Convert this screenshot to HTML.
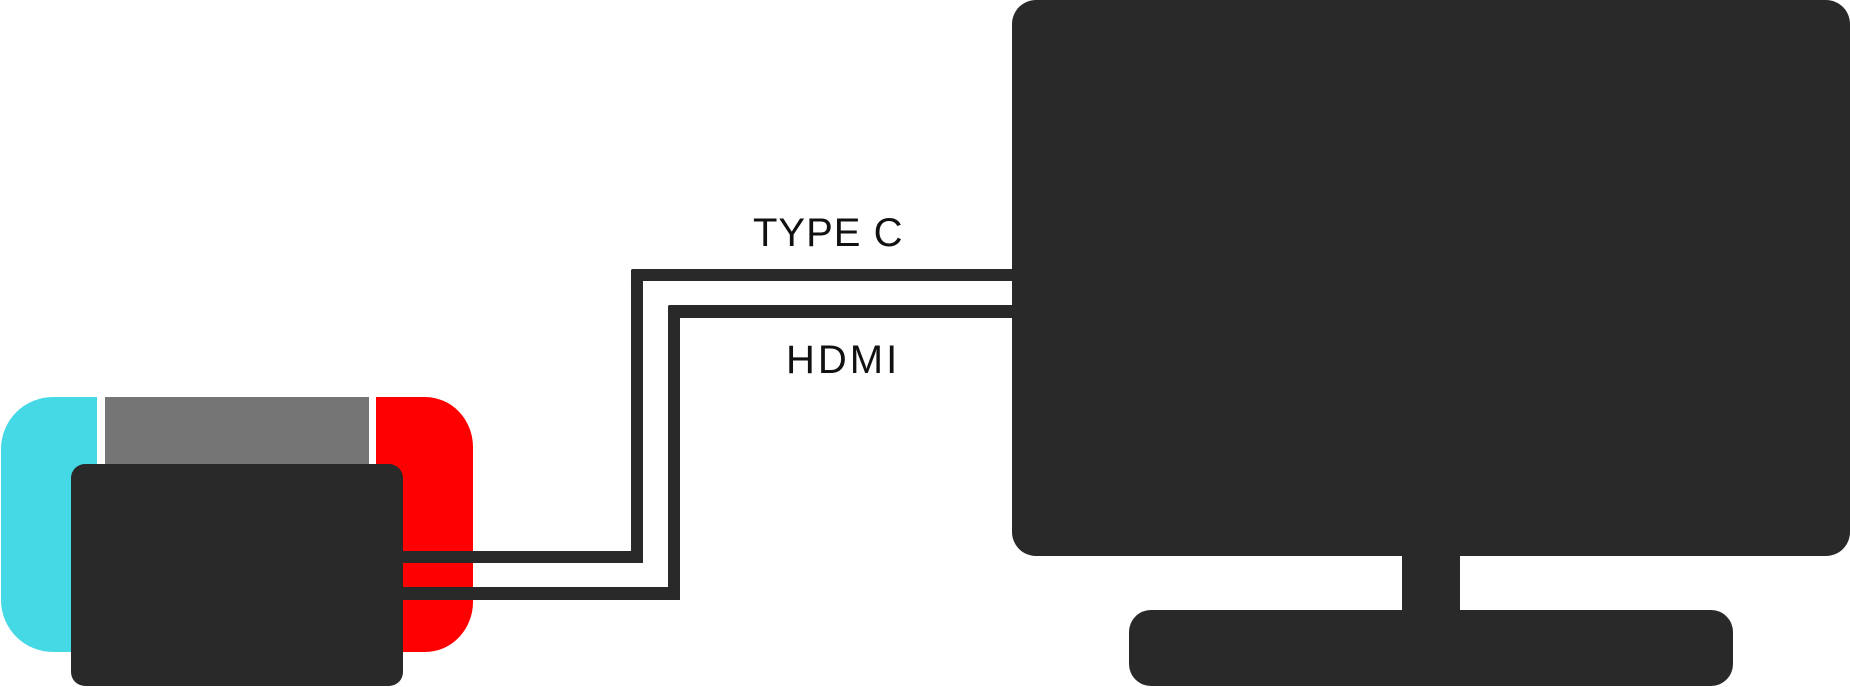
<!DOCTYPE html>
<html><head><meta charset="utf-8"><style>
html,body{margin:0;padding:0;background:#fff;overflow:hidden;}
svg{display:block;}
text{font-family:"Liberation Sans",sans-serif;fill:#111;}
</style></head><body>
<svg width="1850" height="687" viewBox="0 0 1850 687">
  <g>
    <path fill="#45d9e6" d="M97,397 V652 H53 A52,52 0 0 1 1,600 V449 A52,52 0 0 1 53,397 Z"/>
    <rect x="105" y="397" width="264" height="80" fill="#757575"/>
    <path fill="#ff0000" d="M376,397 H425 A48,50 0 0 1 473,447 V602 A48,50 0 0 1 425,652 H376 Z"/>
  </g>
  <rect x="71" y="464" width="332" height="222" rx="14" fill="#292929"/>
  <g fill="#292929">
    <rect x="400" y="551" width="243" height="12"/>
    <rect x="631" y="269" width="12" height="294" rx="2"/>
    <rect x="631" y="269" width="390" height="12" rx="2"/>
  </g>
  <g fill="#292929">
    <rect x="400" y="587" width="280" height="13"/>
    <rect x="668" y="305" width="12" height="295" rx="2"/>
    <rect x="668" y="305" width="353" height="13" rx="2"/>
  </g>
  <text x="753" y="246" font-size="40" letter-spacing="1">TYPE C</text>
  <text x="786" y="373" font-size="40" letter-spacing="3">HDMI</text>
  <g fill="#292929">
    <rect x="1012" y="0" width="838" height="556" rx="24"/>
    <rect x="1402" y="550" width="58" height="64"/>
    <rect x="1129" y="610" width="604" height="76" rx="22"/>
  </g>
</svg>
</body></html>
